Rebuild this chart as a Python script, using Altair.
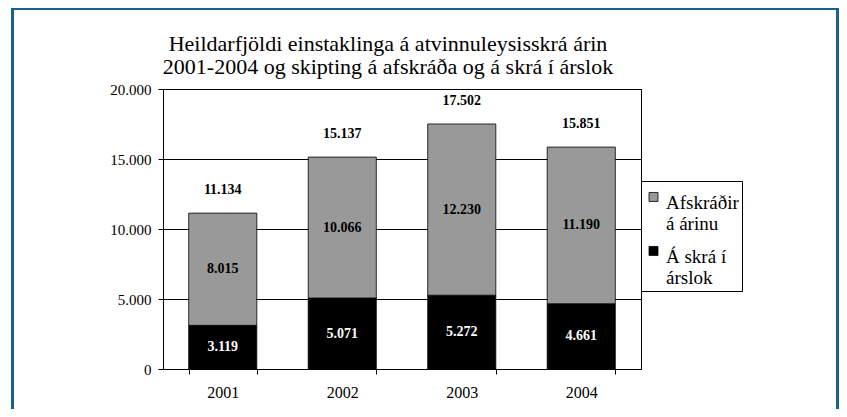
import altair as alt
import pandas as pd

years = ["2001", "2002", "2003", "2004"]
a_skra = [3119, 5071, 5272, 4661]          # black, bottom
afskradir = [8015, 10066, 12230, 11190]    # gray, top
totals = [11134, 15137, 17502, 15851]
series_names = ["Afskráðir á árinu", "Á skrá í árslok"]
y_ticks = [0, 5000, 10000, 15000, 20000]
title_lines = [
    "Heildarfjöldi einstaklinga á atvinnuleysisskrá árin",
    "2001-2004 og skipting á afskráða og á skrá í árslok",
]

rows = []
for i, yr in enumerate(years):
    rows.append({"year": yr, "series": series_names[1], "value": a_skra[i], "ord": 0})
    rows.append({"year": yr, "series": series_names[0], "value": afskradir[i], "ord": 1})
df = pd.DataFrame(rows)
tot = pd.DataFrame({"year": years, "total": totals})
one_df = pd.DataFrame({"k": [0]})

W, H = 478, 280
FONT = "Liberation Serif"
fmt = "replace(format(datum.%s, ','), ',', '.')"

xscale = alt.Scale(domain=years, paddingInner=0.43, paddingOuter=0.215)
x_enc = alt.X(
    "year:N", scale=xscale, title=None,
    axis=alt.Axis(labelAngle=0, tickBand="extent", tickSize=5, labelPadding=10,
                  labelFont=FONT, labelFontSize=16, labelColor="black",
                  domainColor="black", tickColor="black", grid=False),
)
yscale = alt.Scale(domain=[0, 20000], nice=False)

legend = alt.Legend(
    title=None, orient="none", legendX=W, legendY=92,
    strokeColor="black", fillColor="white", padding=3, cornerRadius=0,
    labelFont=FONT, labelFontSize=19, labelColor="black", labelLimit=0,
    labelBaseline="top", labelOffset=3,
    symbolType="M-1,-0.23H1V1.77H-1Z", symbolSize=81,
    symbolStrokeColor="black", symbolStrokeWidth=0.8, symbolOpacity=1,
    rowPadding=4,
    labelExpr="datum.label == 'Afskráðir á árinu' ? ['Afskráðir', 'á árinu'] : ['Á skrá í', 'árslok']",
)

frame = alt.Chart(one_df).mark_rect(fill=None, stroke="#15638b", strokeWidth=3).encode(
    x=alt.value(-150.5), x2=alt.value(674.5), y=alt.value(-80.5), y2=alt.value(400)
)

title = alt.Chart(one_df).mark_text(
    font=FONT, fontSize=22, fontWeight="normal", color="black",
    align="center", baseline="top", lineHeight=23,
).encode(
    x=alt.value(225), y=alt.value(-55.3), text=alt.value(title_lines)
)

bars = alt.Chart(df).mark_bar(stroke="black", strokeWidth=0.8).encode(
    x=x_enc,
    y=alt.Y("value:Q", stack="zero", scale=yscale, title=None,
            axis=alt.Axis(values=y_ticks, labelExpr=fmt % "value", grid=True,
                          gridColor="black", gridWidth=1, tickSize=5, labelPadding=7,
                          labelFont=FONT, labelFontSize=15, labelColor="black",
                          domainColor="black", tickColor="black")),
    color=alt.Color("series:N", scale=alt.Scale(domain=series_names, range=["#999999", "#000000"]),
                    legend=legend),
    order=alt.Order("ord:Q"),
)

seg_text = alt.Chart(df).transform_stack(
    stack="value", as_=["v0", "v1"], groupby=["year"], sort=[alt.SortField("ord")]
).transform_calculate(
    mid="(datum.v0 + datum.v1) / 2",
    lab=fmt % "value",
    tcol="datum.ord == 0 ? 'white' : 'black'",
).mark_text(font=FONT, fontSize=14, fontWeight="bold", baseline="middle").encode(
    x=alt.X("year:N", scale=xscale),
    y=alt.Y("mid:Q", scale=yscale),
    text="lab:N",
    color=alt.Color("tcol:N", scale=None),
)

tot_text = alt.Chart(tot).transform_calculate(lab=fmt % "total").mark_text(
    font=FONT, fontSize=14, fontWeight="bold", baseline="middle", dy=-23, color="black"
).encode(
    x=alt.X("year:N", scale=xscale),
    y=alt.Y("total:Q", scale=yscale),
    text="lab:N",
)

chart = alt.layer(frame, title, bars, seg_text, tot_text).properties(
    width=W, height=H,
    padding={"left": 155, "top": 81, "right": 198, "bottom": 40},
    autosize=alt.AutoSizeParams(type="none"),
    background="white",
).configure_view(
    stroke="black", strokeWidth=1
).configure_axis(
    labelFont=FONT
).configure_legend(
    labelFont=FONT
).configure_text(
    font=FONT
)

chart.save("out.html", embed_options={"renderer": "svg", "actions": False})
